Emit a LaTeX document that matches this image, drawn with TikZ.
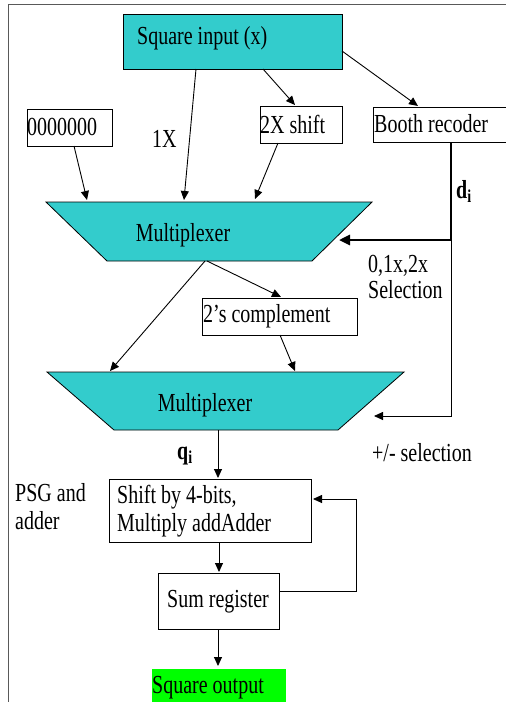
\documentclass[tikz,border=0pt]{standalone}
\usepackage{fontspec}
\setmainfont{Liberation Serif}
\usetikzlibrary{arrows.meta}
\definecolor{teal1}{HTML}{33CCCC}
\definecolor{green1}{HTML}{00FF00}
\newcommand{\T}[1]{\scalebox{1}[1.3]{#1}}
\begin{document}
\begin{tikzpicture}[x=1pt,y=-1pt,
  every node/.style={font=\fontsize{20}{23}\selectfont, inner sep=0pt},
  box/.style={draw, line width=0.8pt},
  arr/.style={-{Triangle[length=9pt,width=8pt]}, line width=0.9pt},
  thickarr/.style={-{Triangle[length=11pt,width=10pt]}, line width=2.6pt},
  lbl/.style={anchor=west}]
\useasboundingbox (0,0) rectangle (506,702);
% frame
\draw[gray!70!black, line width=0.8pt] (8,702) -- (8,4) -- (506,4);
% boxes
\draw[box, fill=teal1] (123,14) rectangle (342,69);
\node[lbl] (sq) at (137,38) {\T{Square input (x)}};
\coordinate (sqb1) at (196,69);
\coordinate (sqb2) at (263,69);
\coordinate (sqr) at (342,51);
\draw[box] (27,109) rectangle (112,146);
\node[lbl] (zero) at (27,127) {\T{0000000}};
\draw[box] (260,106) rectangle (342,143);
\node[lbl] (twox) at (260,124) {\T{2X shift}};
\draw[box] (373,107) rectangle (507,142);
\node[lbl] (booth) at (374,124) {\T{Booth recoder}};
\node[lbl] (onex) at (152,139) {\T{1X}};
% mux 1
\draw[box, fill=teal1] (46,202) -- (372,202) -- (312,261) -- (107,261) -- cycle;
\node (mux1) at (183,235) {\T{Multiplexer}};
% mux 2
\draw[box, fill=teal1] (47,372) -- (404,372) -- (338,430) -- (114,430) -- cycle;
\node (mux2) at (205,405) {\T{Multiplexer}};
% 2's complement
\draw[box] (202,298) rectangle (357,335);
\node[lbl] (comp) at (203,316) {\T{2’s complement}};
% labels
\node[lbl, align=left, font=\fontsize{20}{26}\selectfont] (sel) at (368,277) {\T{0,1x,2x}\\\T{Selection}};
\node[lbl] (di) at (456,191) {\T{\textbf{d\textsubscript{i}}}};
\node[lbl] (pm) at (372,453) {\T{+/- selection}};
\node[lbl] (qi) at (177,456) {\T{\textbf{q\textsubscript{i}}}};
\node[lbl, align=left, font=\fontsize{20}{28}\selectfont] (psg) at (15,507) {\T{PSG and}\\\T{adder}};
% shift box
\draw[box] (109,479) rectangle (311,542);
\node[lbl, align=left, font=\fontsize{20}{28}\selectfont] (shift) at (117,511) {\T{Shift by 4-bits,}\\\T{Multiply addAdder}};
% sum register
\draw[box] (158,573) rectangle (279,629);
\node (sum) at (218,602) {\T{Sum register}};
% output
\fill[green1] (152,669) rectangle (286,703);
\node[lbl] (out) at (152,688) {\T{Square output}};
% connectors
\draw[arr] (sqb1) -- (184,200);
\draw[arr] (sqb2) -- (295,105);
\draw[arr] (sqr) -- (418,106);
\draw[arr] (74,146) -- (87,200);
\draw[arr] (278,143) -- (255,199);
\draw[arr] (205,261) -- (110,371);
\draw[arr] (207,261) -- (281,297);
\draw[arr] (280,335) -- (295,371);
\coordinate (bb) at (451,142);
\coordinate (bc) at (451,240);
\draw[line width=2.6pt] (bb) -- (bc);
\draw[thickarr] (bc) -- (339,240);
\draw[arr] (bc) -- (451,416) -- (374,416);
\draw[arr] (218,430) -- (218,478);
\draw[arr] (219,542) -- (219,572);
\draw[arr] (279,591) -- (356,591) -- (356,499) -- (313,499);
\draw[arr] (218,629) -- (218,666);
\end{tikzpicture}
\end{document}
